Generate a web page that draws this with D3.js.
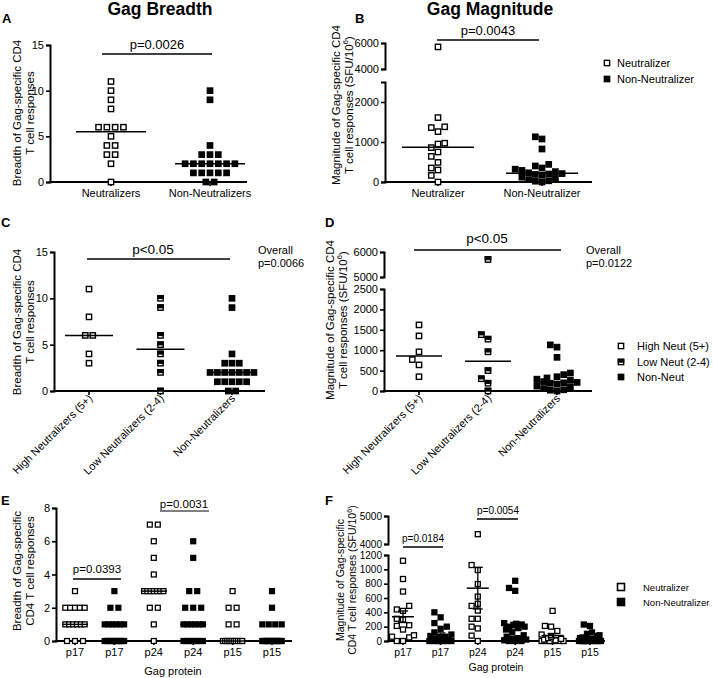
<!DOCTYPE html>
<html><head><meta charset="utf-8">
<script src="https://cdn.jsdelivr.net/npm/d3@7"></script>
<style>
body{margin:0;background:#fff;}
svg text{font-family:"Liberation Sans",Arial,Helvetica,sans-serif;fill:#000;}
</style></head><body>
<svg id="c" width="713" height="678"></svg>
<script>
// ================= DATA =================
const titleLeft = "Gag Breadth";
const titleRight = "Gag Magnitude";

// Panel A – breadth by neutralizer status
const catsA = ["Neutralizers", "Non-Neutralizers"];
const breadthNeut = [11,10,9,8,6,6,6,6,5,4,4,3,3,2,0];
const breadthNonNeut = [10,9,4,3,3,3,2,2,2,2,2,2,2,1,1,1,1,1,0,0];
const mediansA = [5.5, 2];
const ticksA = [0,5,10,15];
const pA = "p=0.0026";

// Panel B – magnitude by neutralizer status
const catsB = ["Neutralizer", "Non-Neutralizer"];
const magNeut = [5700,1610,1380,1360,1260,970,950,860,750,640,490,350,300,165,0];
const magNonNeut = [1130,1075,825,440,400,350,320,290,260,230,210,200,190,170,120,90,60,30,20,0];
const mediansB = [870, 220];
const ticksBLow = [0,1000,2000];
const ticksBHigh = [4000,6000];
const pB = "p=0.0043";
const legendB = ["Neutralizer", "Non-Neutralizer"];

// Panel C – breadth by neutralization level
const catsC = ["High Neutralizers (5+)", "Low Neutralizers (2-4)", "Non-Neutralizers"];
const breadthHigh = [11,8,6,6,4,3];
const breadthLow = [10,9,6,5,4,3,2,0];
const mediansC = [6, 4.5, 2];
const ticksC = [0,5,10,15];
const pC = "p<0.05";
const overallC = ["Overall", "p=0.0066"];

// Panel D – magnitude by neutralization level
const magHigh = [1620,1350,960,770,640,350];
const magLow = [5700,1380,1270,960,500,300,190,0];
const mediansD = [860, 730, 220];
const ticksDLow = [0,500,1000,1500,2000,2500];
const ticksDHigh = [5000,6000];
const pD = "p<0.05";
const overallD = ["Overall", "p=0.0122"];
const legendD = ["High Neut (5+)", "Low Neut (2-4)", "Non-Neut"];

// Panel E – breadth per Gag protein
const catsE = ["p17","p17","p24","p24","p15","p15"];
const eP17Neut = [3,2,2,2,2,2,1,1,1,1,1,1,0,0,0];
const eP17Non  = [3,2,2,1,1,1,1,1,1,0,0,0,0,0,0,0,0,0,0,0,0];
const eP24Neut = [7,7,6,5,4,3,3,3,3,3,3,3,2,2,1,0];
const eP24Non  = [6,5,3,3,2,2,2,1,1,1,1,1,1,0,0,0,0,0,0,0,0];
const eP15Neut = [3,2,2,1,1,0,0,0,0,0,0,0,0,0,0];
const eP15Non  = [3,2,1,1,1,1,0,0,0,0,0,0,0,0,0,0,0,0,0,0,0];
const mediansE = [1,0,3,1,0,0];
const ticksE = [0,2,4,6,8];
const pE = ["p=0.0393", "p=0.0031"];

// Panel F – magnitude per Gag protein (mean ± SEM)
const catsF = ["p17","p17","p24","p24","p15","p15"];
const fP17Neut = [1120,865,690,490,440,420,310,300,220,210,160,80,60,50,0,0];
const fP17Non  = [400,330,250,200,170,120,90,70,60,50,40,30,20,10,0,0,0,0,0,0,0];
const fP24Neut = [4350,1060,990,795,620,520,490,425,310,310,200,175,75,0];
const fP24Non  = [840,740,700,250,240,230,220,200,200,180,160,120,80,60,40,30,20,10,0,0,0];
const fP15Neut = [420,210,200,140,90,60,40,30,20,10,0,0,0,0,0,0];
const fP15Non  = [230,210,120,100,80,70,50,40,30,20,10,0,0,0,0,0,0,0,0,0,0];
const ticksFLow = [0,200,400,600,800,1000,1200];
const ticksFHigh = [4000,5000];
const pF = ["p=0.0184", "p=0.0054"];
const legendF = ["Neutralizer", "Non-Neutralizer"];
const xTitleEF = "Gag protein";

// ================= HELPERS =================
const svg = d3.select("#c");
const fmt = d3.format("d");

function broken(lowDom, lowRange, upDom, upRange) {
  const lo = d3.scaleLinear().domain(lowDom).range(lowRange);
  const up = upDom ? d3.scaleLinear().domain(upDom).range(upRange) : null;
  const f = v => (up && v > lowDom[1]) ? up(v) : lo(v);
  f.lo = lo; f.up = up;
  return f;
}

function styleAxis(sel, fs) {
  sel.attr("font-size", null).attr("font-family", null);
  sel.select(".domain").attr("stroke", "#000").attr("stroke-width", 2);
  sel.selectAll(".tick line").attr("stroke", "#000").attr("stroke-width", 1.6);
  sel.selectAll(".tick text").attr("font-size", fs);
}

function yAxis(scale, ticks, x, fs) {
  svg.append("g").attr("transform", `translate(${x},0)`)
    .call(d3.axisLeft(scale).tickValues(ticks).tickFormat(fmt).tickSize(4).tickSizeOuter(4).tickPadding(2))
    .call(s => styleAxis(s, fs));
}

function xAxis(x0, x1, y, xs, n) {
  svg.append("line").attr("x1", x0 - 1).attr("x2", x1).attr("y1", y).attr("y2", y)
    .attr("stroke", "#000").attr("stroke-width", 2);
  d3.range(n).forEach(i => {
    svg.append("line").attr("x1", xs(i)).attr("x2", xs(i)).attr("y1", y).attr("y2", y + 4)
      .attr("stroke", "#000").attr("stroke-width", 1.6);
  });
}

function catLabels(cats, xs, y, fs) {
  cats.forEach((c, i) => svg.append("text").attr("x", xs(i)).attr("y", y)
    .attr("text-anchor", "middle").attr("font-size", fs).text(c));
}

function rotLabels(cats, xs, y, fs) {
  cats.forEach((c, i) => svg.append("text")
    .attr("transform", `translate(${xs(i) + 4},${y}) rotate(-45)`)
    .attr("text-anchor", "end").attr("font-size", fs).text(c));
}

function yLabel(x1, x2, cy, l1, l2, sup, fs) {
  svg.append("text").attr("transform", `translate(${x1},${cy}) rotate(-90)`)
    .attr("text-anchor", "middle").attr("font-size", fs).text(l1);
  const t = svg.append("text").attr("transform", `translate(${x2},${cy}) rotate(-90)`)
    .attr("text-anchor", "middle").attr("font-size", fs);
  if (sup) {
    t.append("tspan").text(l2);
    t.append("tspan").attr("dy", -fs * 0.4).attr("font-size", fs * 0.7).text("6");
    t.append("tspan").attr("dy", fs * 0.4).text(")");
  } else t.text(l2);
}

function textAt(x, y, s, fs, anchor, weight) {
  return svg.append("text").attr("x", x).attr("y", y).attr("font-size", fs)
    .attr("text-anchor", anchor || "start").attr("font-weight", weight || "normal").text(s);
}

function hline(x0, x1, y, w) {
  svg.append("line").attr("x1", x0).attr("x2", x1).attr("y1", y).attr("y2", y)
    .attr("stroke", "#000").attr("stroke-width", w || 1.5);
}

function marker(x, y, s, type, sw) {
  sw = sw || 1.4;
  if (type === "filled") {
    svg.append("rect").attr("x", x - (s + sw) / 2).attr("y", y - (s + sw) / 2)
      .attr("width", s + sw).attr("height", s + sw).attr("fill", "#000");
  } else {
    svg.append("rect").attr("x", x - s / 2).attr("y", y - s / 2).attr("width", s).attr("height", s)
      .attr("fill", "#fff").attr("stroke", "#000").attr("stroke-width", sw);
    if (type === "half") {
      svg.append("rect").attr("x", x - s / 2).attr("y", y - s / 2).attr("width", s).attr("height", s / 2)
        .attr("fill", "#000").attr("stroke", "#000").attr("stroke-width", sw);
    }
  }
}

function rowLayout(vals, yf, spacing, cap) {
  const groups = d3.groups(vals, v => v);
  const out = [];
  groups.forEach(([v, arr]) => {
    const n = arr.length;
    const sp = n > 1 ? Math.min(spacing, 2 * cap / (n - 1)) : 0;
    arr.forEach((_, k) => out.push({ v, y: yf(v), dx: (k - (n - 1) / 2) * sp }));
  });
  return out;
}

function swarmLayout(vals, yf, size, cap) {
  const pts = vals.map(v => ({ v, y: yf(v) })).sort((a, b) => b.y - a.y);
  const placed = [];
  pts.forEach(p => {
    const near = placed.filter(q => Math.abs(q.y - p.y) < size);
    const blocks = near.map(q => [q.dx - size, q.dx + size]);
    let cands = [0];
    blocks.forEach(b => cands.push(b[0], b[1]));
    cands = cands.filter(c => Math.abs(c) <= cap + 1e-6).sort((a, b) => Math.abs(a) - Math.abs(b) || a - b);
    let best = null;
    for (const c of cands) {
      if (!blocks.some(b => c > b[0] + 1e-6 && c < b[1] - 1e-6)) { best = c; break; }
    }
    if (best === null) {
      let bs = -1;
      for (let c = -cap; c <= cap + 1e-6; c += 0.5) {
        const s = d3.min(near, q => Math.abs(c - q.dx));
        if (s > bs) { bs = s; best = c; }
      }
    }
    p.dx = best;
    placed.push(p);
  });
  return pts;
}

function drawGroup(pts, cx, s, type, sw) {
  pts.forEach(p => marker(cx + p.dx, p.y, s, type, sw));
}

// ================= TITLES / LETTERS =================
textAt(160, 15, titleLeft, 17.5, "middle", "bold");
textAt(490, 15, titleRight, 17.5, "middle", "bold");
textAt(2, 23, "A", 13, "start", "bold");
textAt(355, 23, "B", 13, "start", "bold");
textAt(1, 227, "C", 13, "start", "bold");
textAt(325, 227, "D", 13, "start", "bold");
textAt(1, 505, "E", 13, "start", "bold");
textAt(325, 505, "F", 13, "start", "bold");

// ================= PANEL A =================
{
  const y = d3.scaleLinear().domain([0, 15]).range([182, 45]);
  const xs = d3.scalePoint().domain([0, 1]).range([111, 210]);
  yAxis(y, ticksA, 50, 11);
  xAxis(50, 247, 182, xs, 2);
  catLabels(catsA, xs, 197, 11);
  yLabel(21, 34, 113, "Breadth of Gag-specific CD4", "T cell responses", false, 11.5);
  drawGroup(rowLayout(breadthNeut, y, 8.3, 30), xs(0), 5.3, "open");
  drawGroup(rowLayout(breadthNonNeut, y, 8.3, 30), xs(1), 5.3, "filled");
  mediansA.forEach((m, i) => hline(xs(i) - 35, xs(i) + 35, y(m), 1.5));
  hline(102, 212, 54, 1.5);
  textAt(157, 49, pA, 13, "middle");
}

// ================= PANEL B =================
{
  const y = broken([0, 2500], [182, 82], [4000, 6000], [69, 43]);
  const xs = d3.scalePoint().domain([0, 1]).range([438, 542]);
  yAxis(y.lo, ticksBLow, 385, 11);
  yAxis(y.up, ticksBHigh, 385, 11);
  xAxis(385, 592, 182, xs, 2);
  catLabels(catsB, xs, 197, 11);
  yLabel(340, 353, 105, "Magnitude of Gag-specific CD4", "T cell responses (SFU/10", true, 11.5);
  drawGroup(swarmLayout(magNeut, y, 6.7, 12), xs(0), 5.3, "open");
  drawGroup(swarmLayout(magNonNeut, y, 6.7, 32), xs(1), 5.3, "filled");
  mediansB.forEach((m, i) => hline(xs(i) - 36, xs(i) + 36, y(m), 1.5));
  hline(437, 539, 40, 1.5);
  textAt(488, 35, pB, 13, "middle");
  marker(607, 63, 5.3, "open");
  marker(607, 79, 5.3, "filled");
  textAt(617, 67, legendB[0], 11);
  textAt(617, 83, legendB[1], 11);
}

// ================= PANEL C =================
{
  const y = d3.scaleLinear().domain([0, 15]).range([391, 252]);
  const xs = d3.scalePoint().domain([0, 1, 2]).range([89, 232]);
  yAxis(y, ticksC, 54, 11);
  xAxis(54, 265, 391, xs, 3);
  rotLabels(catsC, xs, 399, 11);
  yLabel(21, 34, 322, "Breadth of Gag-specific CD4", "T cell responses", false, 11.5);
  drawGroup(rowLayout(breadthHigh, y, 7.5, 24), xs(0), 5.3, "open");
  drawGroup(rowLayout(breadthLow, y, 7.5, 24), xs(1), 5.3, "half");
  drawGroup(rowLayout(breadthNonNeut, y, 7.3, 24), xs(2), 5.3, "filled");
  mediansC.forEach((m, i) => hline(xs(i) - 24, xs(i) + 24, y(m), 1.5));
  hline(87, 230, 259, 1.5);
  textAt(153, 254, pC, 13.5, "middle");
  textAt(258, 254, overallC[0], 11);
  textAt(258, 267, overallC[1], 11);
}

// ================= PANEL D =================
{
  const y = broken([0, 2500], [391, 289], [5000, 6000], [277, 252]);
  const xs = d3.scalePoint().domain([0, 1, 2]).range([419, 557]);
  yAxis(y.lo, ticksDLow, 384, 11);
  yAxis(y.up, ticksDHigh, 384, 11);
  xAxis(384, 592, 391, xs, 3);
  rotLabels(catsC, xs, 399, 11);
  yLabel(334, 347, 320, "Magnitude of Gag-specific CD4", "T cell responses (SFU/10", true, 11.5);
  drawGroup(swarmLayout(magHigh, y, 6.7, 8), xs(0), 5.3, "open");
  drawGroup(swarmLayout(magLow, y, 6.7, 8), xs(1), 5.3, "half");
  drawGroup(swarmLayout(magNonNeut, y, 6.7, 22), xs(2), 5.3, "filled");
  mediansD.forEach((m, i) => hline(xs(i) - 23, xs(i) + 23, y(m), 1.5));
  hline(414, 561, 250, 1.5);
  textAt(487, 243, pD, 13.5, "middle");
  textAt(586, 254, overallD[0], 11);
  textAt(586, 267, overallD[1], 11);
  const ty = [346, 362, 377];
  ["open", "half", "filled"].forEach((t, i) => {
    marker(621, ty[i], 5.3, t);
    textAt(637, ty[i] + 4, legendD[i], 11);
  });
}

// ================= PANEL E =================
{
  const y = d3.scaleLinear().domain([0, 8]).range([641, 508]);
  const xs = d3.scalePoint().domain(d3.range(6)).range([75, 272]);
  yAxis(y, ticksE, 56, 11);
  xAxis(56, 292, 641, xs, 6);
  catLabels(catsE, xs, 656, 11);
  textAt(173, 675, xTitleEF, 11, "middle");
  yLabel(21, 34, 571, "Breadth of Gag-specific", "CD4 T cell responses", false, 11.5);
  const groups = [eP17Neut, eP17Non, eP24Neut, eP24Non, eP15Neut, eP15Non];
  groups.forEach((g, i) => drawGroup(rowLayout(g, y, 8, 9.7), xs(i), 4.9, i % 2 ? "filled" : "open", 1.3));
  mediansE.forEach((m, i) => hline(xs(i) - 13, xs(i) + 13, y(m), 1.5));
  hline(73, 121, 579, 1.5);
  textAt(97, 573, pE[0], 11.5, "middle");
  textAt(184, 508, pE[1], 11.5, "middle");
  hline(160, 209, 511, 1.2);
}

// ================= PANEL F =================
{
  const y = broken([0, 1200], [641, 555], [4000, 5000], [544, 516]);
  const xs = d3.scalePoint().domain(d3.range(6)).range([403, 590]);
  yAxis(y.lo, ticksFLow, 388, 10);
  yAxis(y.up, ticksFHigh, 388, 10);
  xAxis(388, 605, 641, xs, 6);
  catLabels(catsF, xs, 656, 10.5);
  textAt(496, 671, xTitleEF, 10.5, "middle");
  yLabel(344, 356, 580, "Magnitude of Gag-specific", "CD4 T cell responses (SFU/10", true, 10.5);
  const groups = [fP17Neut, fP17Non, fP24Neut, fP24Non, fP15Neut, fP15Non];
  groups.forEach((g, i) => {
    drawGroup(swarmLayout(g, y, 6.2, 11), xs(i), 5, i % 2 ? "filled" : "open", 1.3);
  });
  groups.forEach((g, i) => {
    const m = d3.mean(g), se = d3.deviation(g) / Math.sqrt(g.length);
    const cx = xs(i);
    hline(cx - 11, cx + 11, y(m), 1.5);
    svg.append("line").attr("x1", cx).attr("x2", cx).attr("y1", y(m - se)).attr("y2", y(m + se))
      .attr("stroke", "#000").attr("stroke-width", 1.3);
    hline(cx - 5, cx + 5, y(m + se), 1.3);
    hline(cx - 5, cx + 5, y(m - se), 1.3);
  });
  hline(403, 443, 547, 1.5);
  textAt(423, 542, pF[0], 10, "middle");
  hline(477, 518, 519, 1.5);
  textAt(498, 514, pF[1], 10, "middle");
  marker(621, 587, 7, "open", 1.6);
  marker(621, 602, 7, "filled", 1.6);
  textAt(643, 591, legendF[0], 9.5);
  textAt(643, 606, legendF[1], 9.5);
}
</script>
</body></html>
